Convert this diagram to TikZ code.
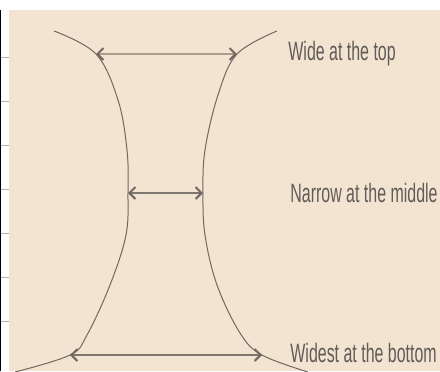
\documentclass[tikz,border=0pt]{standalone}
\usepackage{fontspec}
\setmainfont{Liberation Sans}
\usetikzlibrary{arrows.meta}
\definecolor{sand}{RGB}{243,227,209}
\definecolor{edgegray}{RGB}{112,104,96}
\definecolor{tan}{RGB}{172,156,140}
\definecolor{labelgray}{RGB}{96,92,88}
\newcommand{\narrowtext}[1]{\scalebox{0.6}[1]{\fontsize{13.3}{15}\selectfont #1}}

\begin{document}
\begin{tikzpicture}[x=0.5pt,y=-0.5pt,
    curve/.style={edgegray,line width=0.5pt},
    span/.style={{Straight Barb[length=3pt,width=6pt,line width=1pt,color=edgegray]}-{Straight Barb[length=3pt,width=6pt,line width=1pt,color=edgegray]},line width=0.7pt,edgegray!90},
    label/.style={anchor=base west,inner sep=0pt,text=labelgray}]
      \useasboundingbox (0,0) rectangle (440,371);
      \fill [white] (0,0) rectangle (440,371);
      \fill [sand] (9,10) rectangle (440,371);
      \draw [black,line width=0.8pt] (0.4,10) -- (0.4,371);
      \foreach \y in {57,101,...,326}
      \draw [gray!60,line width=0.5pt] (1,\y) -- (9,\y);

      \coordinate (topL) at (96,54);
      \coordinate (topR) at (237,54);
      \coordinate (midL) at (128,193);
      \coordinate (midR) at (203,193);
      \coordinate (botL) at (70,355);
      \coordinate (botR) at (262,355);

      \draw [curve] plot [smooth,tension=0.6] coordinates
        {(54,31) (96,54) (118,100) (127,150) (128,193) (126,235) (110,285) (87,335) (70,355) (15,372)};
      \draw [curve] plot [smooth,tension=0.6] coordinates
        {(277,31) (237,54) (218,95) (205,150) (203,193) (205,235) (217,285) (240,333) (262,355) (308,372)};

      \draw [span,tan,line width=1.3pt] (topL) -- (topR);
      \draw [span] (midL) -- (midR);
      \draw [span] (botL) -- (botR);

      \node [label] (toplabel) at (288,60) {\narrowtext{Wide at the top}};
      \node [label] (midlabel) at (290,202) {\narrowtext{Narrow at the middle}};
      \node [label] (botlabel) at (290,362) {\narrowtext{Widest at the bottom}};
\end{tikzpicture}
\end{document}
